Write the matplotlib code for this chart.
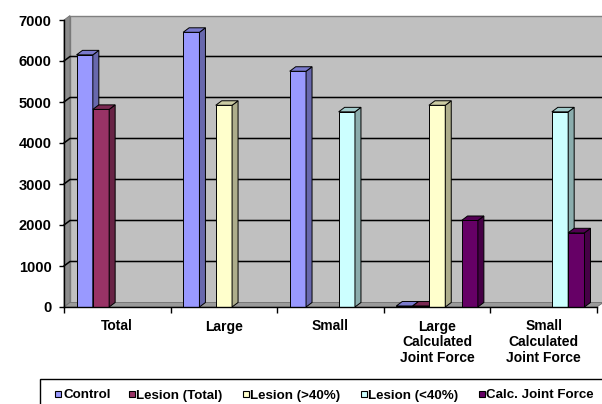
import matplotlib
matplotlib.use("Agg")
import matplotlib.pyplot as plt
from matplotlib.patches import Polygon, Rectangle
import matplotlib.colors as mcolors

plt.rcParams['font.family'] = ['Liberation Sans', 'DejaVu Sans']
plt.rcParams['font.weight'] = 'bold'
plt.rcParams['font.size'] = 10

categories = ["Total", "Large", "Small",
              "Large\nCalculated\nJoint Force", "Small\nCalculated\nJoint Force"]
series = ["Control", "Lesion (Total)", "Lesion (>40%)", "Lesion (<40%)", "Calc. Joint Force"]
control = [6150, 6700, 5750, 25, 0]
lesion_total = [4820, 0, 0, 25, 0]
lesion_gt40 = [0, 4920, 0, 4920, 0]
lesion_lt40 = [0, 0, 4760, 0, 4760]
calc_force = [0, 0, 0, 2110, 1810]
colors = ["#9999FF", "#993366", "#FFFFCC", "#CCFFFF", "#660066"]

values = [control, lesion_total, lesion_gt40, lesion_lt40, calc_force]
ymax = 7000
ncat = len(categories)

W, H = 602, 404
fig = plt.figure(figsize=(W / 100, H / 100), dpi=100)
ax_px = (64, 97, 533, 287)
ax = fig.add_axes([ax_px[0] / W, ax_px[1] / H, ax_px[2] / W, ax_px[3] / H])
ax.set_xlim(0, ncat)
ax.set_ylim(0, ymax)
ax.patch.set_visible(False)

# depth of the 3-D box, converted from pixels to data units
dx = 6 * ncat / ax_px[2]
dy = 4.5 * ymax / ax_px[3]


def shade(c, f):
    r, g, b = mcolors.to_rgb(c)
    return (r * f, g * f, b * f)


# back wall, side wall and floor
ax.add_patch(Polygon([(dx, dy), (ncat + dx, dy), (ncat + dx, ymax + dy), (dx, ymax + dy)],
                     closed=True, fc="#C0C0C0", ec="#808080", lw=1, clip_on=False, zorder=0))
ax.add_patch(Polygon([(0, 0), (dx, dy), (dx, ymax + dy), (0, ymax)],
                     closed=True, fc="#8C8C8C", ec="#707070", lw=0.6, clip_on=False, zorder=0.5))
ax.add_patch(Polygon([(0, 0), (ncat, 0), (ncat + dx, dy), (dx, dy)],
                     closed=True, fc="#9A9A9A", ec="#707070", lw=0.6, clip_on=False, zorder=0.5))

for v in range(1000, ymax, 1000):
    ax.plot([0, dx, ncat + dx], [v, v + dy, v + dy], color="black", lw=1.1,
            clip_on=False, zorder=0.8)

# bars with front, side and top faces
w = 0.153
start = 0.5 - 2.5 * w
z = 2
for i in range(ncat):
    for k, vals in enumerate(values):
        v = vals[i]
        if v <= 0:
            continue
        x0 = i + start + k * w
        c = colors[k]
        ax.bar(x0, v, w, align="edge", color=c, edgecolor="black", lw=0.7,
               zorder=z, clip_on=False)
        ax.add_patch(Polygon([(x0 + w, 0), (x0 + w + dx, dy), (x0 + w + dx, v + dy), (x0 + w, v)],
                             closed=True, fc=shade(c, 0.68), ec="black", lw=0.7,
                             clip_on=False, zorder=z))
        ax.add_patch(Polygon([(x0, v), (x0 + w, v), (x0 + w + dx, v + dy), (x0 + dx, v + dy)],
                             closed=True, fc=shade(c, 0.8), ec="black", lw=0.7,
                             clip_on=False, zorder=z))
        z += 1

for s in ["top", "right"]:
    ax.spines[s].set_visible(False)
for s in ["left", "bottom"]:
    ax.spines[s].set_linewidth(1)
    ax.spines[s].set_zorder(50)

ax.set_yticks(range(0, ymax + 1, 1000))
ax.tick_params(axis="y", length=3.5, width=1, pad=5.5, labelsize=10.5)
ax.set_xticks(range(ncat + 1))
ax.set_xticklabels([])
ax.tick_params(axis="x", which="major", length=4, width=1)
ax.set_xticks([i + 0.5 for i in range(ncat)], minor=True)
ax.set_xticklabels(categories, minor=True, fontsize=10, linespacing=1.15)
ax.tick_params(axis="x", which="minor", length=0, pad=9)

# legend box along the bottom edge
fig.patches.append(Rectangle((40 / W, -0.1), 1, 0.1 + 1 - 379 / H, transform=fig.transFigure,
                             fc="white", ec="black", lw=1, figure=fig))
marker_x = [58.5, 132, 246, 364, 482]
ly = 394
for mx, c, name in zip(marker_x, colors, series):
    fig.patches.append(Rectangle(((mx - 3) / W, 1 - (ly + 3) / H), 6 / W, 6 / H,
                                 transform=fig.transFigure, fc=c, ec="black", lw=0.8,
                                 figure=fig))
    fig.text((mx + 4.5) / W, 1 - ly / H, name, ha="left", va="center_baseline",
             fontsize=9.6)

fig.savefig("out.png", dpi=100)
